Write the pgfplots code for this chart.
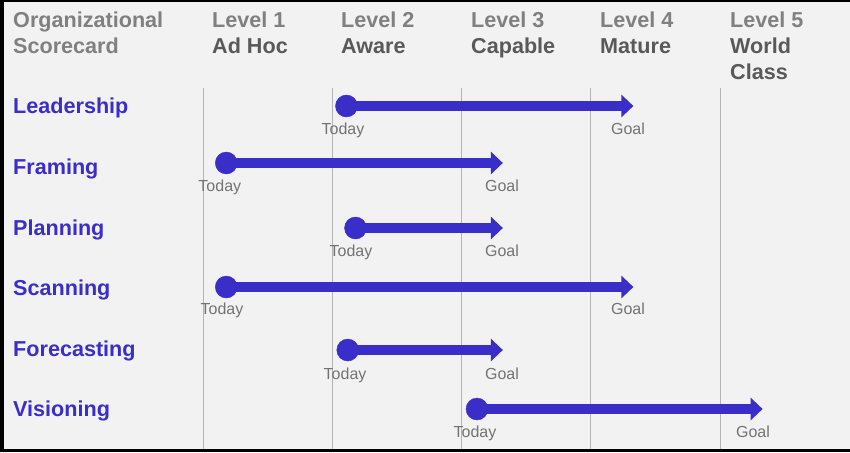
\documentclass[border=0pt]{standalone}
\usepackage{pgfplots}
\pgfplotsset{compat=1.18}
\usetikzlibrary{arrows.meta}
\usepackage{fontspec}
\setmainfont{Liberation Sans}
\definecolor{mainblue}{RGB}{58,46,200}
\definecolor{bgcol}{RGB}{242,242,242}
\definecolor{lightgray}{RGB}{128,128,128}
\definecolor{darkgray}{RGB}{89,89,89}
\definecolor{labgray}{RGB}{115,115,115}
\definecolor{gridcol}{RGB}{180,180,180}
\begin{document}
\begin{tikzpicture}
\begin{axis}[
  scale only axis, width=850pt, height=452pt,
  xmin=-0.5706, xmax=6.0058, ymin=0, ymax=452, y dir=reverse,
  hide axis, clip=false,
]
% background and frame
\fill[black] (axis cs:-0.5706,0) rectangle (axis cs:6.0058,452);
\fill[bgcol] (axis cs:-0.5397,2) rectangle (axis cs:6.0058,449);
% grid lines
\foreach \g in {1,2,3,4,5} {
  \edef\tmp{\noexpand\draw[gridcol, line width=1pt] (axis cs:\g,88) -- (axis cs:\g,449);}\tmp
}
% headers
\begin{scope}[every node/.style={anchor=base west, inner sep=0pt, font=\fontsize{21.6}{26}\bfseries\selectfont}]
\node[text=lightgray] at (axis cs:-0.470,27.5) {Organizational};
\node[text=lightgray] at (axis cs:-0.470,53.5) {Scorecard};
\node[text=lightgray] at (axis cs:1.0696,27.5) {Level 1};
\node[text=darkgray]  at (axis cs:1.0696,53.5) {Ad Hoc};
\node[text=lightgray] at (axis cs:2.0677,27.5) {Level 2};
\node[text=darkgray]  at (axis cs:2.0677,53.5) {Aware};
\node[text=lightgray] at (axis cs:3.0735,27.5) {Level 3};
\node[text=darkgray]  at (axis cs:3.0735,53.5) {Capable};
\node[text=lightgray] at (axis cs:4.0716,27.5) {Level 4};
\node[text=darkgray]  at (axis cs:4.0716,53.5) {Mature};
\node[text=lightgray] at (axis cs:5.0774,27.5) {Level 5};
\node[text=darkgray]  at (axis cs:5.0774,53.5) {World};
\node[text=darkgray]  at (axis cs:5.0774,79.5) {Class};
% row labels
\node[text=mainblue] at (axis cs:-0.470,113.5) {Leadership};
\node[text=mainblue] at (axis cs:-0.470,174.5) {Framing};
\node[text=mainblue] at (axis cs:-0.470,235.5) {Planning};
\node[text=mainblue] at (axis cs:-0.470,295.5) {Scanning};
\node[text=mainblue] at (axis cs:-0.470,356.5) {Forecasting};
\node[text=mainblue] at (axis cs:-0.470,416.5) {Visioning};
\end{scope}
% arrows
\pgfplotsset{arr/.style={mainblue, line width=10pt, -{Triangle[width=22pt,length=12pt]}},
  dot/.style={only marks, mark=*, mark size=11pt, mainblue, mark options={fill=mainblue, draw=mainblue}}}
\addplot[arr] coordinates {(2.11,106) (4.33,106)};
\addplot[dot] coordinates {(2.11,106)};
\addplot[arr] coordinates {(1.18,163) (3.32,163)};
\addplot[dot] coordinates {(1.18,163)};
\addplot[arr] coordinates {(2.18,228) (3.32,228)};
\addplot[dot] coordinates {(2.18,228)};
\addplot[arr] coordinates {(1.18,287) (4.33,287)};
\addplot[dot] coordinates {(1.18,287)};
\addplot[arr] coordinates {(2.12,350) (3.32,350)};
\addplot[dot] coordinates {(2.12,350)};
\addplot[arr] coordinates {(3.12,409) (5.33,409)};
\addplot[dot] coordinates {(3.12,409)};
% Today / Goal labels
\begin{scope}[every node/.style={anchor=base, inner sep=0pt, text=labgray, font=\fontsize{16}{18}\selectfont}]
\node at (axis cs:2.083,134) {Today};
\node at (axis cs:4.288,134) {Goal};
\node at (axis cs:1.130,191) {Today};
\node at (axis cs:3.313,191) {Goal};
\node at (axis cs:2.145,256) {Today};
\node at (axis cs:3.313,256) {Goal};
\node at (axis cs:1.147,314) {Today};
\node at (axis cs:4.288,314) {Goal};
\node at (axis cs:2.099,379) {Today};
\node at (axis cs:3.313,379) {Goal};
\node at (axis cs:3.104,437) {Today};
\node at (axis cs:5.255,437) {Goal};
\end{scope}
\end{axis}
\end{tikzpicture}
\end{document}
